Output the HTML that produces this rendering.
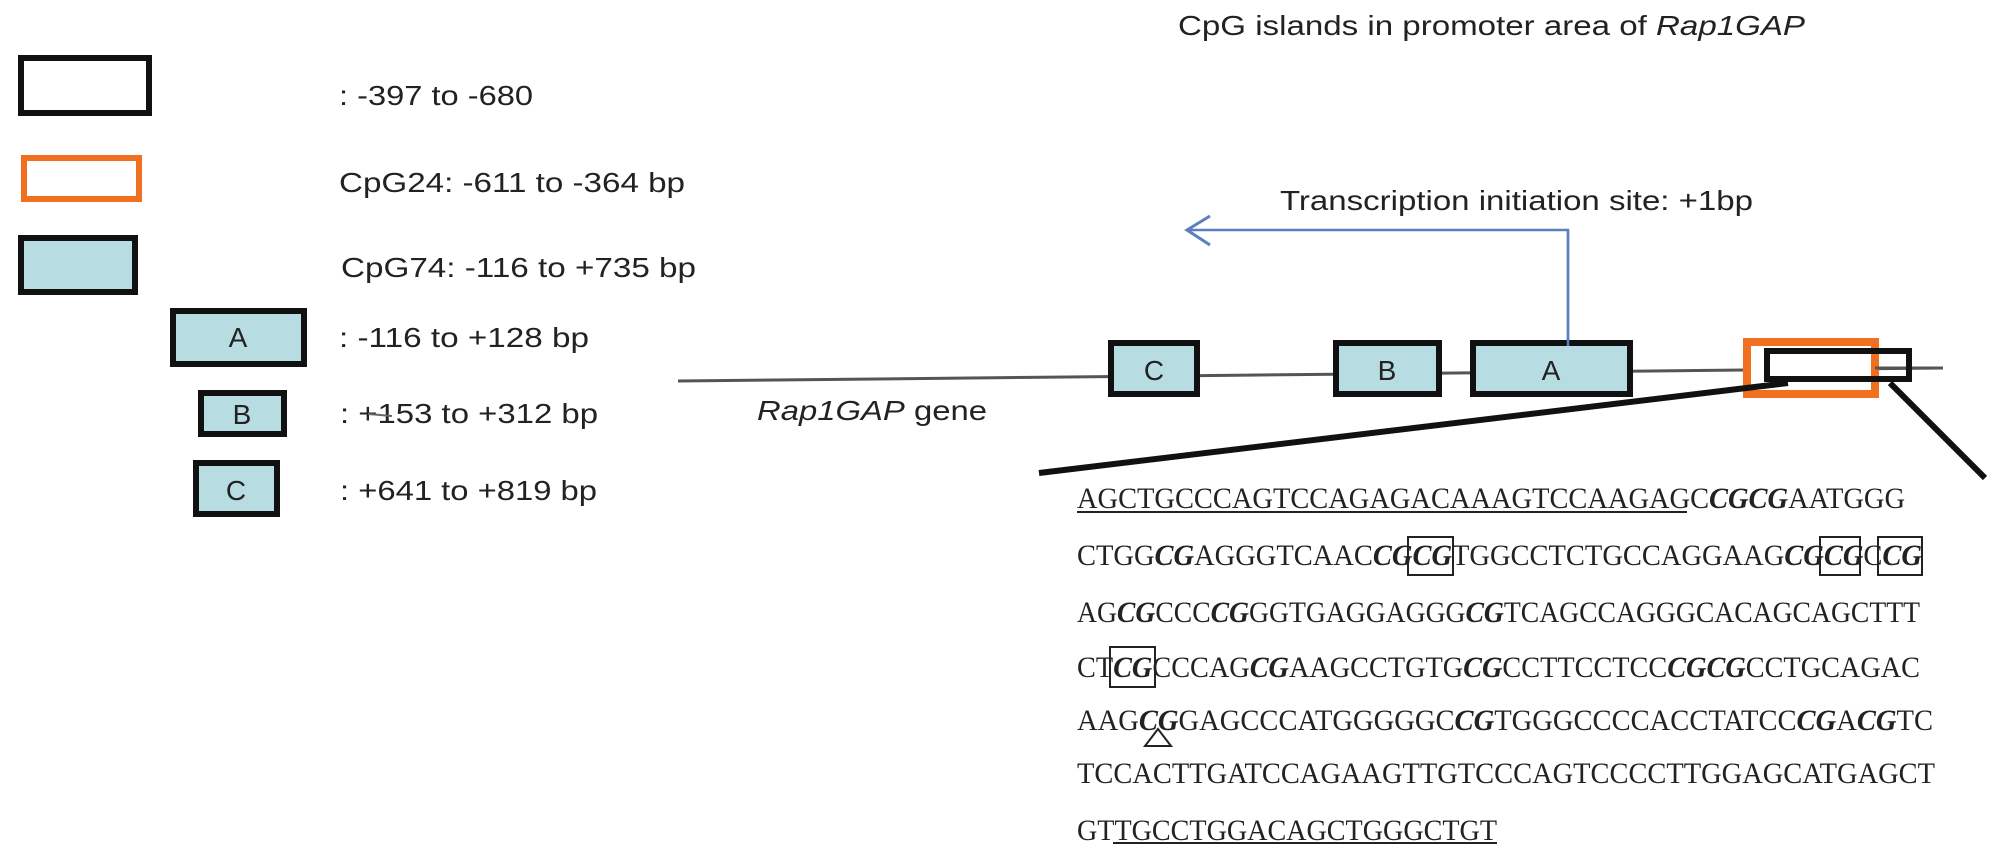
<!DOCTYPE html>
<html><head><meta charset="utf-8">
<style>
html,body{margin:0;padding:0;background:#fff;}
svg{display:block;}
.s{font-family:"Liberation Sans",Arial,sans-serif;font-size:28px;fill:#222;}
.q{font-family:"Liberation Serif","Times New Roman",serif;font-size:30px;fill:#222;}
.b{font-weight:bold;font-style:italic;}
</style></head>
<body>
<svg width="2008" height="856" viewBox="0 0 2008 856" xmlns="http://www.w3.org/2000/svg">
<rect width="2008" height="856" fill="#fff"/>

<!-- Legend boxes -->
<rect x="21" y="58" width="128" height="55" fill="#fff" stroke="#111" stroke-width="6"/>
<rect x="24" y="158" width="115" height="41" fill="#fff" stroke="#f07020" stroke-width="6"/>
<rect x="21" y="238" width="114" height="54" fill="#b7dde3" stroke="#111" stroke-width="6"/>
<rect x="173" y="311" width="131" height="53" fill="#b7dde3" stroke="#111" stroke-width="6"/>
<text class="s" x="238" y="347" text-anchor="middle">A</text>
<rect x="201" y="393" width="83" height="41" fill="#b7dde3" stroke="#111" stroke-width="6"/>
<text class="s" x="242" y="424" text-anchor="middle">B</text>
<rect x="196" y="463" width="81" height="51" fill="#b7dde3" stroke="#111" stroke-width="6"/>
<text class="s" x="236" y="500" text-anchor="middle">C</text>

<!-- Legend text -->
<text class="s" x="339" y="105" textLength="194" lengthAdjust="spacingAndGlyphs">: -397 to -680</text>
<text class="s" x="339" y="192" textLength="346" lengthAdjust="spacingAndGlyphs">CpG24: -611 to -364 bp</text>
<text class="s" x="341" y="277" textLength="355" lengthAdjust="spacingAndGlyphs">CpG74: -116 to +735 bp</text>
<text class="s" x="339" y="347" textLength="250" lengthAdjust="spacingAndGlyphs">: -116 to +128 bp</text>
<text class="s" x="340" y="423" textLength="258" lengthAdjust="spacingAndGlyphs">: +153 to +312 bp</text>
<line x1="368" y1="414" x2="392" y2="416" stroke="#666" stroke-width="2"/>
<text class="s" x="340" y="500" textLength="257" lengthAdjust="spacingAndGlyphs">: +641 to +819 bp</text>

<!-- Title -->
<text class="s" x="1178" y="35" textLength="627" lengthAdjust="spacingAndGlyphs">CpG islands in promoter area of <tspan font-style="italic">Rap1GAP</tspan></text>

<!-- Transcription -->
<text class="s" x="1280" y="210" textLength="473" lengthAdjust="spacingAndGlyphs">Transcription initiation site: +1bp</text>
<path d="M1568 347 V230 H1187" fill="none" stroke="#5b7fbf" stroke-width="2.5"/>
<path d="M1210 216 L1187 230 L1210 245" fill="none" stroke="#5b7fbf" stroke-width="3"/>

<!-- Gene line -->
<line x1="678" y1="381" x2="1943" y2="368" stroke="#555" stroke-width="3"/>
<text class="s" x="757" y="420" textLength="230" lengthAdjust="spacingAndGlyphs"><tspan font-style="italic">Rap1GAP</tspan> gene</text>

<!-- Gene boxes -->
<rect x="1111" y="343" width="86" height="51" fill="#b7dde3" stroke="#111" stroke-width="6"/>
<text class="s" x="1154" y="380" text-anchor="middle">C</text>
<rect x="1336" y="343" width="103" height="51" fill="#b7dde3" stroke="#111" stroke-width="6"/>
<text class="s" x="1387" y="380" text-anchor="middle">B</text>
<rect x="1473" y="343" width="157" height="51" fill="#b7dde3" stroke="#111" stroke-width="6"/>
<text class="s" x="1551" y="380" text-anchor="middle">A</text>
<line x1="1568" y1="230" x2="1568" y2="346" stroke="#5b7fbf" stroke-width="2.5"/>

<rect x="1747" y="342" width="128" height="52" fill="#fff" stroke="#f07020" stroke-width="8"/>
<line x1="1875" y1="368" x2="1943" y2="368" stroke="#555" stroke-width="3"/>
<rect x="1767" y="351" width="142" height="28" fill="none" stroke="#111" stroke-width="6"/>

<!-- Zoom lines -->
<line x1="1788" y1="383" x2="1039" y2="473" stroke="#111" stroke-width="6"/>
<line x1="1890" y1="383" x2="1985" y2="478" stroke="#111" stroke-width="6"/>

<!-- Sequence -->
<text class="q" x="1077" y="508" textLength="828" lengthAdjust="spacingAndGlyphs">AGCTGCCCAGTCCAGAGACAAAGTCCAAGAGC<tspan class="b">CGCG</tspan>AATGGG</text>
<line x1="1077" y1="512" x2="1687" y2="512" stroke="#222" stroke-width="2"/>

<text class="q" x="1077" y="565" textLength="845" lengthAdjust="spacingAndGlyphs">CTGG<tspan class="b">CG</tspan>AGGGTCAAC<tspan class="b">CGCG</tspan>TGGCCTCTGCCAGGAAG<tspan class="b">CGCG</tspan>C<tspan class="b">CG</tspan></text>
<rect x="1408" y="537" width="45" height="38" fill="none" stroke="#222" stroke-width="2"/>
<rect x="1820" y="537" width="40" height="38" fill="none" stroke="#222" stroke-width="2"/>
<rect x="1878" y="537" width="44" height="38" fill="none" stroke="#222" stroke-width="2"/>

<text class="q" x="1077" y="622" textLength="843" lengthAdjust="spacingAndGlyphs">AG<tspan class="b">CG</tspan>CCC<tspan class="b">CG</tspan>GGTGAGGAGGG<tspan class="b">CG</tspan>TCAGCCAGGGCACAGCAGCTTT</text>

<text class="q" x="1077" y="677" textLength="843" lengthAdjust="spacingAndGlyphs">CT<tspan class="b">CG</tspan>CCCAG<tspan class="b">CG</tspan>AAGCCTGTG<tspan class="b">CG</tspan>CCTTCCTCC<tspan class="b">CGCG</tspan>CCTGCAGAC</text>
<rect x="1110" y="647" width="45" height="40" fill="none" stroke="#222" stroke-width="2"/>

<text class="q" x="1077" y="730" textLength="856" lengthAdjust="spacingAndGlyphs">AAG<tspan class="b">CG</tspan>GAGCCCATGGGGGC<tspan class="b">CG</tspan>TGGGCCCCACCTATCC<tspan class="b">CG</tspan>A<tspan class="b">CG</tspan>TC</text>
<polygon points="1158,729 1145,746 1171,746" fill="#fff" stroke="#222" stroke-width="2"/>

<text class="q" x="1077" y="783" textLength="858" lengthAdjust="spacingAndGlyphs">TCCACTTGATCCAGAAGTTGTCCCAGTCCCCTTGGAGCATGAGCT</text>

<text class="q" x="1077" y="840" textLength="420" lengthAdjust="spacingAndGlyphs">GTTGCCTGGACAGCTGGGCTGT</text>
<line x1="1113" y1="843" x2="1497" y2="843" stroke="#222" stroke-width="2"/>
</svg>
</body></html>
